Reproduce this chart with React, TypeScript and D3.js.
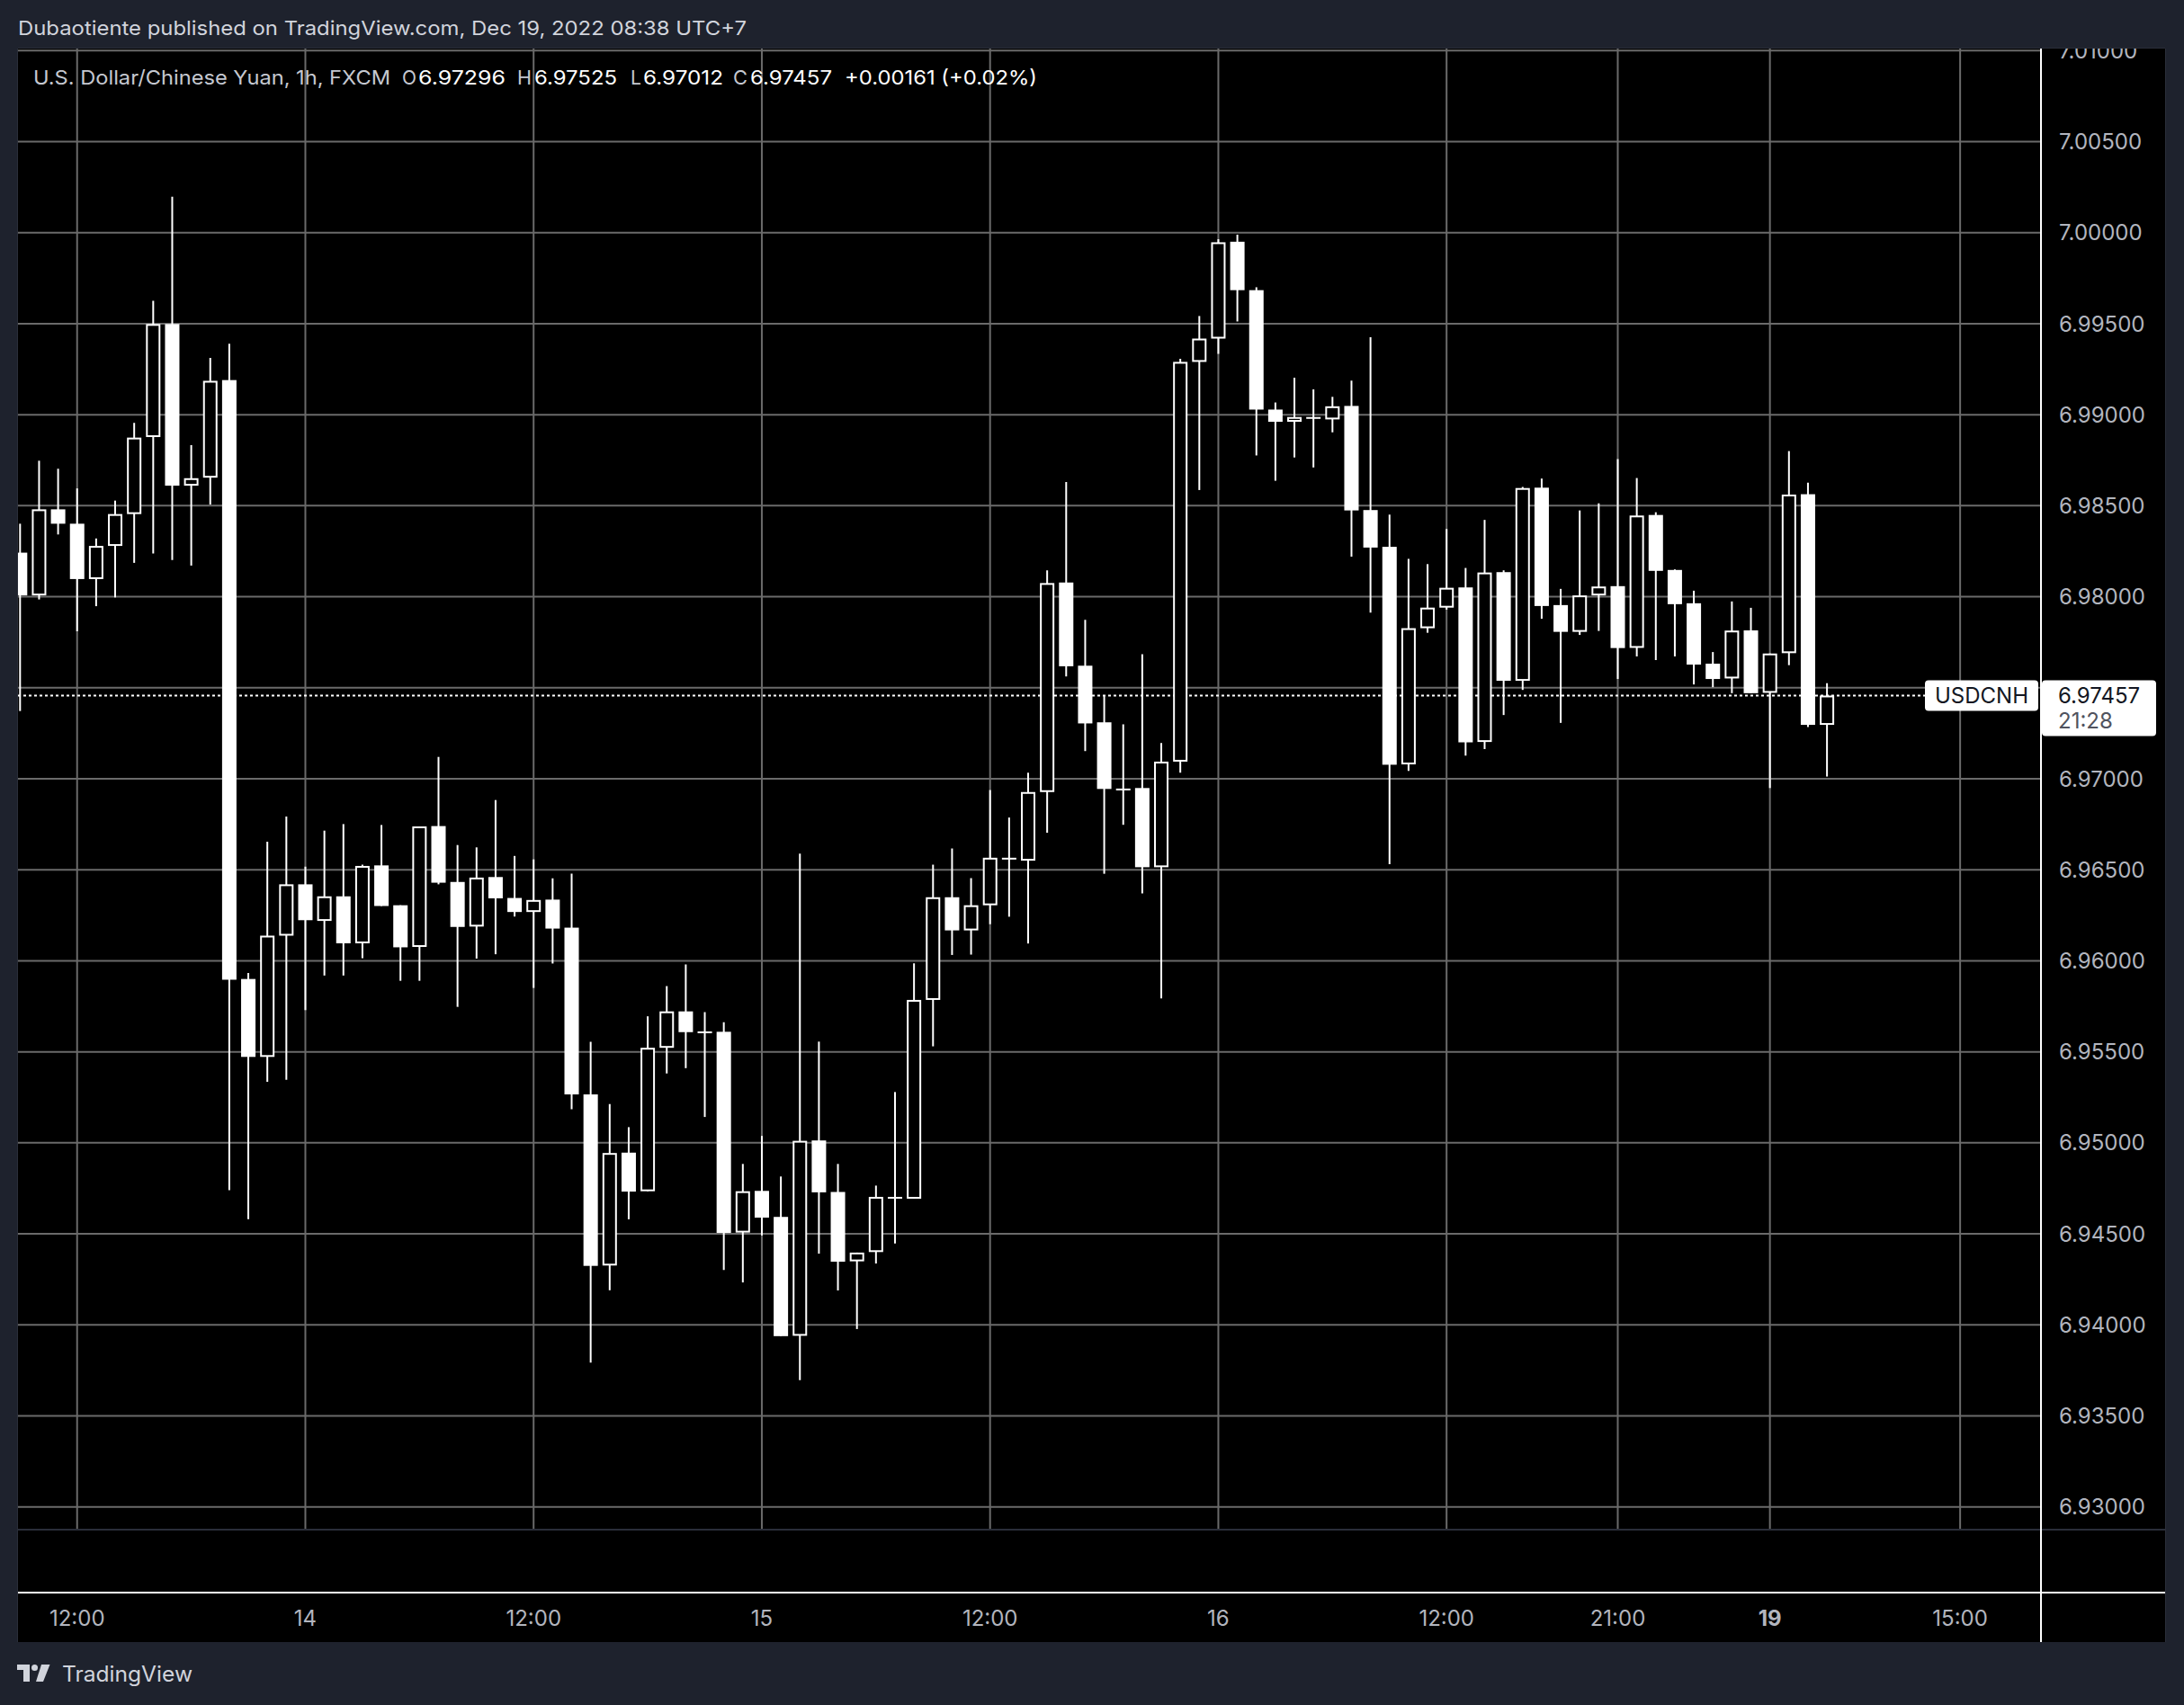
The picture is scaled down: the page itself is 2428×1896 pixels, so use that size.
import React from "react";
import * as d3 from "d3";

// ---- Data (USD/CNH, 1h, FXCM) — bar 0 = Dec 13 09:00 (UTC+7) ... bar 95 = Dec 19 08:00
const opens = [
  6.98242, 6.98007, 6.9848, 6.98401, 6.98097, 6.98279, 6.98454, 6.98877, 6.99498, 6.9861,
  6.98654, 6.9919, 6.959, 6.95472, 6.96138, 6.9642, 6.96219, 6.96354, 6.96096, 6.96524,
  6.96305, 6.96076, 6.9674, 6.96433, 6.96188, 6.9646, 6.96345, 6.96268, 6.96336, 6.96182,
  6.95266, 6.94326, 6.94946, 6.94734, 6.95522, 6.95722, 6.9561, 6.9561, 6.94507, 6.94736,
  6.94593, 6.9394, 6.95013, 6.9473, 6.94349, 6.944, 6.94703, 6.94693, 6.95785, 6.96349,
  6.96167, 6.96305, 6.96566, 6.9655, 6.96927, 6.98078, 6.97621, 6.9731, 6.96946, 6.96949,
  6.96514, 6.97094, 6.9929, 6.99418, 6.9995, 6.99684, 6.99028, 6.98961, 6.98987, 6.98974,
  6.99048, 6.98476, 6.98274, 6.97079, 6.97827, 6.9794, 6.98051, 6.97202, 6.98135, 6.97538,
  6.98599, 6.97954, 6.97807, 6.98007, 6.98058, 6.97719, 6.98449, 6.98147, 6.97964, 6.97632,
  6.97551, 6.97815, 6.97472, 6.9769, 6.98563, 6.97296,
];
const highs = [
  6.98401, 6.98747, 6.98703, 6.98595, 6.9832, 6.98528, 6.98955, 6.99625, 7.00197, 6.98833,
  6.99312, 6.9939, 6.95933, 6.96654, 6.96792, 6.96517, 6.96715, 6.96751, 6.96528, 6.96746,
  6.96305, 6.96738, 6.9712, 6.96636, 6.96623, 6.96883, 6.96576, 6.96557, 6.96453, 6.96479,
  6.95555, 6.95213, 6.95086, 6.95695, 6.95861, 6.9598, 6.95718, 6.95662, 6.94884, 6.95038,
  6.94815, 6.96589, 6.95556, 6.94884, 6.94397, 6.94765, 6.95279, 6.95986, 6.96528, 6.96617,
  6.96454, 6.96938, 6.96787, 6.97033, 6.98145, 6.9863, 6.97873, 6.97454, 6.97299, 6.97684,
  6.97196, 6.99307, 6.99542, 6.99964, 6.99989, 6.997, 6.99067, 6.99203, 6.99139, 6.99098,
  6.99187, 6.99425, 6.98451, 6.98208, 6.98179, 6.98372, 6.98158, 6.98422, 6.98145, 6.98603,
  6.98649, 6.98043, 6.98474, 6.98513, 6.98756, 6.98652, 6.98464, 6.9815, 6.98033, 6.97696,
  6.97974, 6.97939, 6.97688, 6.988, 6.98627, 6.97525,
];
const lows = [
  6.97372, 6.97985, 6.98342, 6.9781, 6.97948, 6.97996, 6.98186, 6.98238, 6.98201, 6.98171,
  6.98506, 6.9474, 6.9458, 6.95335, 6.95346, 6.95729, 6.95919, 6.95919, 6.96014, 6.96301,
  6.9589, 6.9589, 6.9642, 6.95747, 6.96012, 6.96036, 6.96243, 6.95851, 6.95985, 6.95185,
  6.93793, 6.9419, 6.9458, 6.94734, 6.95381, 6.9541, 6.95142, 6.94302, 6.94233, 6.94491,
  6.93938, 6.93696, 6.94391, 6.94189, 6.93977, 6.94337, 6.94447, 6.94693, 6.9553, 6.96032,
  6.96034, 6.96201, 6.96242, 6.96095, 6.96703, 6.97562, 6.97152, 6.96478, 6.96747, 6.9637,
  6.95793, 6.97033, 6.98586, 6.99334, 6.99512, 6.98776, 6.98637, 6.98765, 6.9871, 6.98903,
  6.9822, 6.97913, 6.96531, 6.97043, 6.97802, 6.97929, 6.97127, 6.97163, 6.9735, 6.97488,
  6.97879, 6.97307, 6.9779, 6.97812, 6.97548, 6.97672, 6.97652, 6.97672, 6.97518, 6.97503,
  6.9747, 6.9747, 6.96949, 6.97624, 6.97284, 6.97012,
];
const closes = [
  6.98007, 6.9848, 6.98401, 6.98097, 6.98279, 6.98454, 6.98874, 6.99498, 6.9861, 6.98651,
  6.99186, 6.95896, 6.95472, 6.96138, 6.9642, 6.96223, 6.96354, 6.96096, 6.96521, 6.96301,
  6.96074, 6.96738, 6.96429, 6.96186, 6.96457, 6.96343, 6.96268, 6.96334, 6.96177, 6.95266,
  6.94324, 6.94944, 6.94732, 6.95522, 6.95722, 6.95608, 6.95612, 6.94505, 6.94734, 6.94589,
  6.93938, 6.95011, 6.94728, 6.94347, 6.94397, 6.94703, 6.94697, 6.95785, 6.96349, 6.96167,
  6.96305, 6.96566, 6.9656, 6.96927, 6.98075, 6.97618, 6.97304, 6.96944, 6.96946, 6.96514,
  6.97094, 6.9929, 6.99418, 6.99947, 6.99684, 6.99028, 6.98961, 6.98987, 6.9898, 6.99046,
  6.98474, 6.9827, 6.97077, 6.97827, 6.9794, 6.98049, 6.972, 6.98133, 6.97538, 6.98597,
  6.97949, 6.97807, 6.98007, 6.98056, 6.97718, 6.98446, 6.98142, 6.97959, 6.97627, 6.97548,
  6.97814, 6.9747, 6.97688, 6.98561, 6.97296, 6.97457,
];

// time-axis ticks (bar index) and labels
const tickIndex = [3, 15, 27, 39, 51, 63, 75, 84, 92, 102];
const tickLabels = ["12:00", "14", "12:00", "15", "12:00", "16", "12:00", "21:00", "19", "15:00"];
const tickBold = [false, false, false, false, false, false, false, false, true, false];

// price-axis ticks
const priceTicks = [
  7.01, 7.005, 7.0, 6.995, 6.99, 6.985, 6.98, 6.975, 6.97, 6.965, 6.96, 6.955, 6.95, 6.945, 6.94, 6.935, 6.93,
];

const headerText = "Dubaotiente published on TradingView.com, Dec 19, 2022 08:38 UTC+7";
const titleText = "U.S. Dollar/Chinese Yuan, 1h, FXCM";
const symbolText = "USDCNH";
const countdownText = "21:28";

const FONT = "Inter, 'Noto Sans', Roboto, sans-serif";

export default function App() {
  const W = 2428;
  const H = 1896;
  const paneL = 20;
  const paneR = 2268;
  const paneT = 54;
  const paneB = 1700;
  const axisR = 2407;
  const timeT = 1770;
  const timeB = 1826;

  const n = closes.length;
  const x = d3.scaleLinear().domain([0, n - 1]).range([22.3, 2031.1]);
  const y = d3.scaleLinear().domain([6.93, 7.0]).range([1675.7, 258.7]);

  const bodyW = 16;
  const gridColor = "#6a6a6a";
  const axisText = "#b2b5be";

  const fmt = d3.format(".5f");
  const last = n - 1;
  const lastPrice = closes[last];
  const change = closes[last] - closes[last - 1];
  const pct = (change / closes[last - 1]) * 100;
  const sign = (v: number) => (v >= 0 ? "+" : "");

  const legend = [
    { t: titleText, x: 37, w: 397, c: "#c5c8d0" },
    { t: "O", x: 447, w: 16, c: "#c5c8d0" },
    { t: fmt(opens[last]), x: 465, w: 97, c: "#ffffff" },
    { t: "H", x: 575, w: 16, c: "#c5c8d0" },
    { t: fmt(highs[last]), x: 594, w: 92, c: "#ffffff" },
    { t: "L", x: 701, w: 12, c: "#c5c8d0" },
    { t: fmt(lows[last]), x: 715, w: 89, c: "#ffffff" },
    { t: "C", x: 815, w: 16, c: "#c5c8d0" },
    { t: fmt(closes[last]), x: 834, w: 91, c: "#ffffff" },
    { t: `${sign(change)}${fmt(change)} (${sign(pct)}${pct.toFixed(2)}%)`, x: 939, w: 214, c: "#ffffff" },
  ];

  const yl = y(lastPrice);
  // tick labels that sit under the last-price box are hidden by it
  const visibleTicks = priceTicks.filter((p) => Math.abs(y(p) - (yl + 14)) > 36);

  return (
    <div style={{ width: W, height: H }}>
      <style>{`html,body{margin:0;padding:0;background:#1e222d;}`}</style>
      <svg width={W} height={H} style={{ display: "block", fontFamily: FONT }}>
        <defs>
          <clipPath id="pane">
            <rect x={paneL} y={paneT} width={paneR - paneL} height={paneB - paneT} />
          </clipPath>
          <clipPath id="paxis">
            <rect x={paneR} y={paneT} width={axisR - paneR} height={paneB - paneT} />
          </clipPath>
        </defs>
        <rect x={0} y={0} width={W} height={H} fill="#1e222d" />

        {/* header */}
        <text x={20} y={39} fontSize={22} fill="#d1d4dc" textLength={810} lengthAdjust="spacingAndGlyphs">
          {headerText}
        </text>

        {/* panes */}
        <rect x={paneL} y={paneT} width={axisR - paneL} height={timeB - paneT} fill="#000" />
        <line x1={axisR + 0.5} x2={axisR + 0.5} y1={paneT} y2={timeB} stroke="#2a2e39" strokeWidth={1} />
        <line x1={paneL - 0.5} x2={paneL - 0.5} y1={paneT} y2={timeB} stroke="#2a2e39" strokeWidth={1} />
        <line x1={paneL} x2={axisR} y1={paneT - 0.5} y2={paneT - 0.5} stroke="#2a2e39" strokeWidth={1} />

        <g clipPath="url(#pane)">
          {/* horizontal grid */}
          {priceTicks.map((p) => (
            <line key={"h" + p} x1={paneL} x2={paneR} y1={y(p)} y2={y(p)} stroke={gridColor} strokeWidth={2} />
          ))}
          {/* vertical grid */}
          {tickIndex.map((t, i) => (
            <line key={"v" + i} x1={x(t)} x2={x(t)} y1={paneT} y2={paneB} stroke={gridColor} strokeWidth={2} />
          ))}
          {/* last price line */}
          <line x1={paneL} x2={2140} y1={yl} y2={yl} stroke="#ffffff" strokeWidth={2} strokeDasharray="3 3" />
          {/* candles */}
          {closes.map((c, i) => {
            const o = opens[i];
            const cx = x(i);
            const up = c >= o;
            const top = y(Math.max(o, c));
            const bot = y(Math.min(o, c));
            const h = Math.max(bot - top, 2);
            return (
              <g key={"c" + i}>
                <line x1={cx} x2={cx} y1={y(highs[i])} y2={y(lows[i])} stroke="#ffffff" strokeWidth={2} />
                {up && h > 4 ? (
                  <rect x={cx - bodyW / 2 + 1} y={top + 1} width={bodyW - 2} height={h - 2} fill="#000" stroke="#ffffff" strokeWidth={2} />
                ) : (
                  <rect x={cx - bodyW / 2} y={top} width={bodyW} height={h} fill="#ffffff" />
                )}
              </g>
            );
          })}
        </g>

        {/* legend */}
        {legend.map((s, i) => (
          <text key={"l" + i} x={s.x} y={94} fontSize={22} fill={s.c} textLength={s.w} lengthAdjust="spacingAndGlyphs">
            {s.t}
          </text>
        ))}

        {/* pane separator and lower pane */}
        <rect x={paneL} y={paneB} width={axisR - paneL} height={2} fill="#2a2e39" />
        {/* time axis border */}
        <rect x={paneL} y={timeT} width={axisR - paneL} height={2} fill="#ffffff" />
        {/* price axis border */}
        <rect x={paneR} y={paneT} width={2} height={timeB - paneT} fill="#ffffff" />

        {/* price axis labels */}
        <g clipPath="url(#paxis)">
          {visibleTicks.map((p) => (
            <text key={"p" + p} x={2289} y={y(p)} dy="0.36em" fontSize={24} fill={axisText}>
              {fmt(p)}
            </text>
          ))}
        </g>

        {/* time axis labels */}
        {tickIndex.map((t, i) => (
          <text
            key={"t" + i}
            x={x(t)}
            y={1808}
            fontSize={24}
            textAnchor="middle"
            fill={axisText}
            fontWeight={tickBold[i] ? 700 : 400}
          >
            {tickLabels[i]}
          </text>
        ))}

        {/* symbol label and last price label */}
        <rect x={2140} y={yl - 17} width={126} height={34} rx={4} fill="#ffffff" />
        <text x={2203} y={yl} dy="0.36em" fontSize={24} textAnchor="middle" fill="#131722">
          {symbolText}
        </text>
        <rect x={2270} y={yl - 17} width={127} height={62} rx={4} fill="#ffffff" />
        <text x={2288} y={yl} dy="0.36em" fontSize={24} fill="#131722">
          {fmt(lastPrice)}
        </text>
        <text x={2288} y={yl + 28} dy="0.36em" fontSize={24} fill="#50535e">
          {countdownText}
        </text>

        {/* TradingView logo */}
        <g fill="#d1d4dc">
          <rect x={19} y={1851} width={14} height={6} />
          <rect x={26} y={1851} width={7} height={19} />
          <circle cx={38.5} cy={1854.5} r={3.5} />
          <polygon points="46,1851 55.5,1851 48,1870 40,1870" />
        </g>
        <text x={69} y={1870} fontSize={24} fill="#d1d4dc" textLength={145} lengthAdjust="spacingAndGlyphs">
          TradingView
        </text>
      </svg>
    </div>
  );
}
